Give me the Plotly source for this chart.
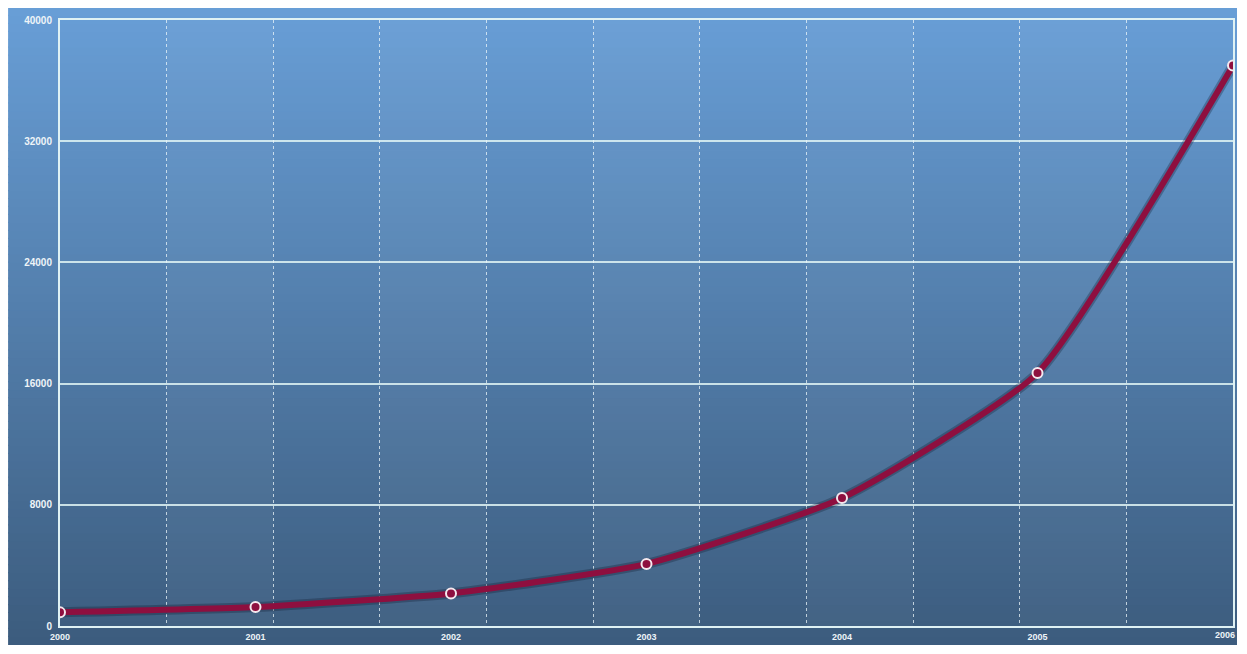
import plotly.graph_objects as go

years = [2000, 2001, 2002, 2003, 2004, 2005, 2006]
values = [900, 1250, 2150, 4100, 8450, 16700, 37000]
y_ticks = [0, 8000, 16000, 24000, 32000, 40000]
x_labels = ["2000", "2001", "2002", "2003", "2004", "2005", "2006"]

W, H = 1231, 638
ml, mr, mt, mb = 52, 4, 12, 19
pw, ph = W - ml - mr, H - mt - mb

fig = go.Figure()

# invisible trace to activate the secondary x grid
fig.add_trace(go.Scatter(x=[0], y=[0], xaxis="x2", mode="markers", marker=dict(opacity=0),
                         showlegend=False, hoverinfo="skip"))
# shadow under the line
fig.add_trace(go.Scatter(x=years, y=values, mode="lines",
                         line=dict(color="rgba(15,25,45,0.30)", width=10, shape="spline", smoothing=0.5),
                         hoverinfo="skip", showlegend=False))
fig.add_trace(go.Scatter(x=years, y=values, mode="lines+markers",
                         line=dict(color="#8e0f3f", width=6, shape="spline", smoothing=0.5),
                         marker=dict(size=10, color="#8e0f3f", line=dict(color="#f4e8ee", width=2)),
                         showlegend=False))

shapes = []
# vertical gradient background covering the whole figure
x0p = -ml / pw
x1p = (W - ml) / pw
y_bot = -mb / ph
y_top = (H - mb) / ph
top = (104, 158, 214)
bot = (60, 92, 126)
n = 80
for i in range(n):
    t = i / (n - 1)
    c = tuple(int(round(bot[k] + (top[k] - bot[k]) * t)) for k in range(3))
    ya = y_bot + (y_top - y_bot) * i / n
    yb = y_bot + (y_top - y_bot) * (i + 1) / n
    shapes.append(dict(type="rect", xref="paper", yref="paper", x0=x0p, x1=x1p, y0=ya, y1=yb + 0.002,
                       fillcolor="rgb(%d,%d,%d)" % c, line=dict(width=0), layer="below"))
# alternating subtle bands
for k in range(11):
    if k % 2 == 1:
        shapes.append(dict(type="rect", xref="x2", yref="paper", x0=k, x1=k + 1, y0=0, y1=1,
                           fillcolor="rgba(255,255,255,0.035)", line=dict(width=0), layer="below"))

tf = dict(family="Liberation Sans, Arial, sans-serif", size=10, color="#eef4f8", weight="bold")
xf = dict(tf, size=9)

# last year label sits at the very edge of the figure
annotations = [dict(x=x1p, xref="paper", y=0, yref="paper", text=x_labels[-1], showarrow=False,
                    xanchor="right", yanchor="top", yshift=-2, font=xf)]

fig.update_layout(
    width=W, height=H,
    margin=dict(l=ml, r=mr, t=mt, b=mb),
    paper_bgcolor="white",
    plot_bgcolor="rgba(0,0,0,0)",
    shapes=shapes,
    annotations=annotations,
    font=dict(family="Liberation Sans, Arial, sans-serif", size=9, color="white"),
    xaxis=dict(range=[2000, 2006], tickvals=years[:-1], ticktext=x_labels[:-1], showgrid=False,
               zeroline=False, showline=True, linecolor="#dff2f4", linewidth=2, mirror=True,
               ticks="", tickfont=xf, ticklabelstandoff=1),
    xaxis2=dict(range=[0, 11], overlaying="x", dtick=1, showgrid=True, griddash="dot",
                gridcolor="rgba(235,245,250,0.75)", gridwidth=1, showticklabels=False,
                zeroline=False, showline=False),
    yaxis=dict(range=[0, 40000], tickvals=y_ticks, ticktext=[str(v) for v in y_ticks],
               showgrid=True, gridcolor="rgba(225,245,245,0.85)", gridwidth=1.5,
               zeroline=False, showline=True, linecolor="#dff2f4", linewidth=2, mirror=True,
               ticks="", tickfont=tf, ticklabelstandoff=4),
    hovermode=False,
)
fig.write_html("out.html")
